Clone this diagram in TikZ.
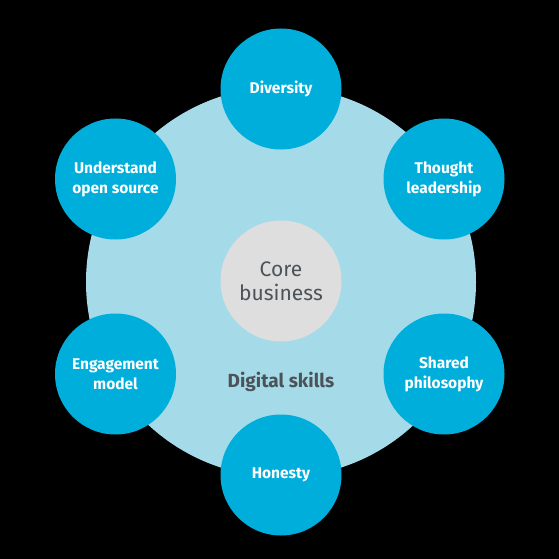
\documentclass[tikz,border=0pt]{standalone}
\usepackage{fontspec}
\setmainfont{Fira Sans}
\definecolor{bigblue}{HTML}{A5DBE8}
\definecolor{dotblue}{HTML}{00AEDB}
\definecolor{coregray}{HTML}{DEDEDE}
\definecolor{darktext}{HTML}{4C5358}
\begin{document}
\begin{tikzpicture}[x=1pt,y=-1pt,
  skill/.style={circle,fill=dotblue,minimum size=121pt,inner sep=0pt,text=white,
    font=\fontsize{15.5}{20}\selectfont\bfseries,align=center},
  ring/.style={circle,fill=bigblue,minimum size=390pt,inner sep=0pt},
  corec/.style={circle,fill=coregray,minimum size=121pt,inner sep=0pt,text=darktext,
    font=\fontsize{21}{24}\selectfont,align=center}]
\fill[black] (0,0) rectangle (559,559);
\useasboundingbox (0,0) rectangle (559,559);
\node[ring] (ring) at (281,282) {};
\node[corec] (core) at (281,281) {Core\\business};
\node[text=darktext,font=\fontsize{19}{20}\selectfont\bfseries] (digital) at (281,382) {Digital skills};
\node[skill] (div) at (281,89) {Diversity};
\node[skill] (thought) at (444,179) {Thought\\leadership};
\node[skill] (shared) at (444,374) {Shared\\philosophy};
\node[skill] (hon) at (281,475) {Honesty};
\node[skill] (eng) at (115.5,374) {Engagement\\model};
\node[skill] (und) at (115.5,179) {Understand\\open source};
\end{tikzpicture}
\end{document}
